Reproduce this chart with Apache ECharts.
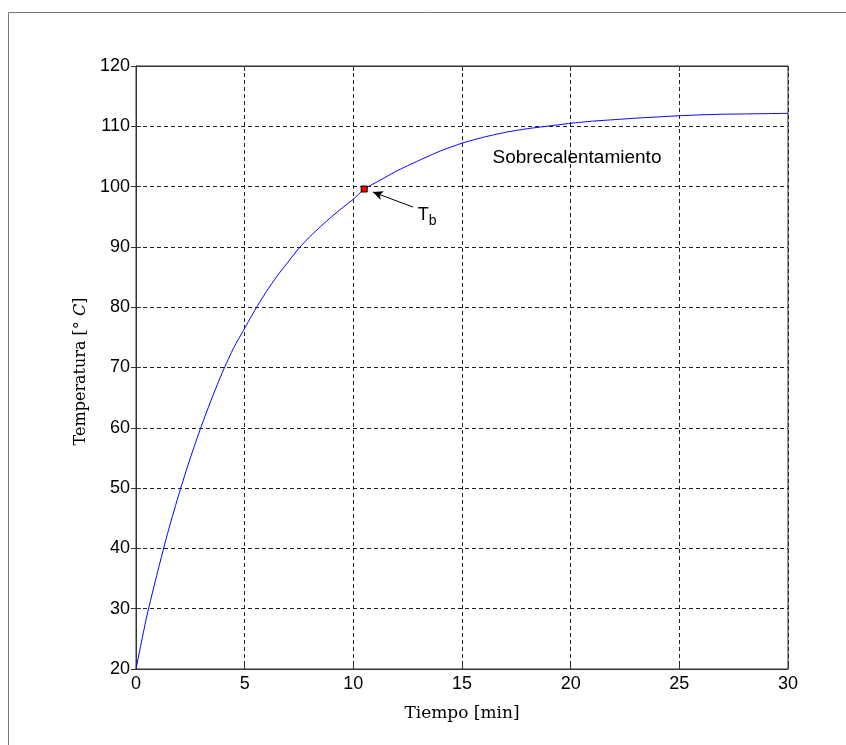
<!DOCTYPE html>
<html>
<head>
<meta charset="utf-8">
<script src="https://cdn.jsdelivr.net/npm/echarts@6/dist/echarts.min.js"></script>
<style>
  html, body { margin: 0; padding: 0; background: #fff; }
  #main { width: 846px; height: 745px; }
</style>
</head>
<body>
<div id="main"></div>
<script>
// tiempo [min] y temperatura [°C]
var tiempo = [0, 0.5, 1, 1.5, 2, 2.5, 3, 3.5, 4, 4.5, 5, 5.5, 6, 6.5, 7, 7.5, 8, 8.5, 9, 9.5, 10, 10.5, 11, 11.5, 12,
  13, 14, 15, 16, 17, 18, 19, 20, 21, 22, 23, 24, 25, 26, 27, 28, 29, 30];
var temperatura = [20, 28.8, 36.2, 43.1, 49.3, 55, 60.2, 65, 69.4, 73.3, 76.5, 79.7, 82.6, 85.2, 87.5, 89.8, 91.7, 93.4, 95, 96.5, 97.9, 99.6, 100.6, 101.6, 102.6,
  104.3, 105.9, 107.2, 108.2, 109, 109.6, 110.05, 110.5, 110.85, 111.1, 111.35, 111.55, 111.75, 111.9, 112, 112.05, 112.1, 112.15];

var puntoTb = [10.5, 99.6];
var flechaDesde = [12.75, 96.6];
var flechaHasta = [10.9, 99.1];
var textoSobre = [20.29, 104.74];
var textoTb = [13.4, 95.3];

var datos = tiempo.map(function (t, i) { return [t, temperatura[i]]; });

var chart = echarts.init(document.getElementById('main'));

var labelFont = { color: '#000', fontFamily: 'Liberation Sans', fontSize: 18 };
var gridDash = { color: '#222', type: [4, 3], width: 1 };

chart.setOption({
  animation: false,
  backgroundColor: '#fff',
  graphic: [{
    type: 'rect',
    left: 6, top: 10,
    shape: { width: 900, height: 800 },
    style: { fill: 'none', stroke: '#777', lineWidth: 1 },
    silent: true
  }],
  grid: {
    left: 136, right: 58, top: 66, bottom: 76,
    show: true, borderColor: '#333', borderWidth: 1
  },
  xAxis: [{
    type: 'value', min: 0, max: 30, interval: 5,
    name: 'Tiempo [min]', nameLocation: 'middle', nameGap: 36,
    nameTextStyle: { color: '#000', fontFamily: 'DejaVu Serif', fontSize: 17 },
    axisLine: { show: true, lineStyle: { color: '#333' } },
    axisTick: { inside: true, length: 5, lineStyle: { color: '#333' } },
    axisLabel: Object.assign({ margin: 6 }, labelFont),
    splitLine: { show: true, lineStyle: gridDash }
  }, {
    type: 'value', min: 0, max: 30, interval: 5, position: 'top',
    axisLine: { show: true, lineStyle: { color: '#333' } },
    axisTick: { inside: true, length: 5, lineStyle: { color: '#333' } },
    axisLabel: { show: false }, splitLine: { show: false }
  }],
  yAxis: [{
    type: 'value', min: 20, max: 120, interval: 10,
    name: '{a|Temperatura [° }{b|C}{a|]}', nameLocation: 'middle', nameGap: 43, nameRotate: 90,
    nameTextStyle: {
      padding: [0, 8, 0, 0],
      rich: {
        a: { color: '#000', fontFamily: 'DejaVu Serif', fontSize: 16 },
        b: { color: '#000', fontFamily: 'DejaVu Serif', fontSize: 16, fontStyle: 'italic' }
      }
    },
    axisLine: { show: true, lineStyle: { color: '#333' } },
    axisTick: { inside: true, length: 5, lineStyle: { color: '#333' } },
    axisLabel: Object.assign({ margin: 6 }, labelFont),
    splitLine: { show: true, lineStyle: gridDash }
  }, {
    type: 'value', min: 20, max: 120, interval: 10, position: 'right',
    axisLine: { show: true, lineStyle: { color: '#333' } },
    axisTick: { inside: true, length: 5, lineStyle: { color: '#333' } },
    axisLabel: { show: false }, splitLine: { show: false }
  }],
  series: [{
    type: 'line',
    data: datos,
    smooth: 0.2,
    showSymbol: false,
    lineStyle: { color: '#0000ff', width: 1 },
    itemStyle: { color: '#0000ff' },
    silent: true,
    markLine: {
      silent: true,
      symbol: ['none', 'arrow'],
      symbolSize: [7, 10],
      label: { show: false },
      lineStyle: { color: '#000', type: 'solid', width: 1 },
      data: [[{ coord: flechaDesde }, { coord: flechaHasta }]]
    },
    markPoint: {
      silent: true,
      data: [{
        coord: puntoTb, symbol: 'rect', symbolSize: 6,
        itemStyle: { color: '#ff0000', borderColor: '#000', borderWidth: 1 },
        label: { show: false }
      }, {
        coord: textoSobre, symbol: 'rect', symbolSize: 1,
        itemStyle: { color: 'transparent' },
        label: {
          show: true, position: 'inside', formatter: 'Sobrecalentamiento',
          color: '#000', fontFamily: 'Liberation Sans', fontSize: 19
        }
      }, {
        coord: textoTb, symbol: 'rect', symbolSize: 1,
        itemStyle: { color: 'transparent' },
        label: {
          show: true, position: 'inside', formatter: '{t|T}{s|b}',
          rich: {
            t: { color: '#000', fontFamily: 'Liberation Sans', fontSize: 18, lineHeight: 22 },
            s: { color: '#000', fontFamily: 'Liberation Sans', fontSize: 14, padding: [12, 0, 0, 0], lineHeight: 22 }
          }
        }
      }]
    }
  }]
});
</script>
</body>
</html>
